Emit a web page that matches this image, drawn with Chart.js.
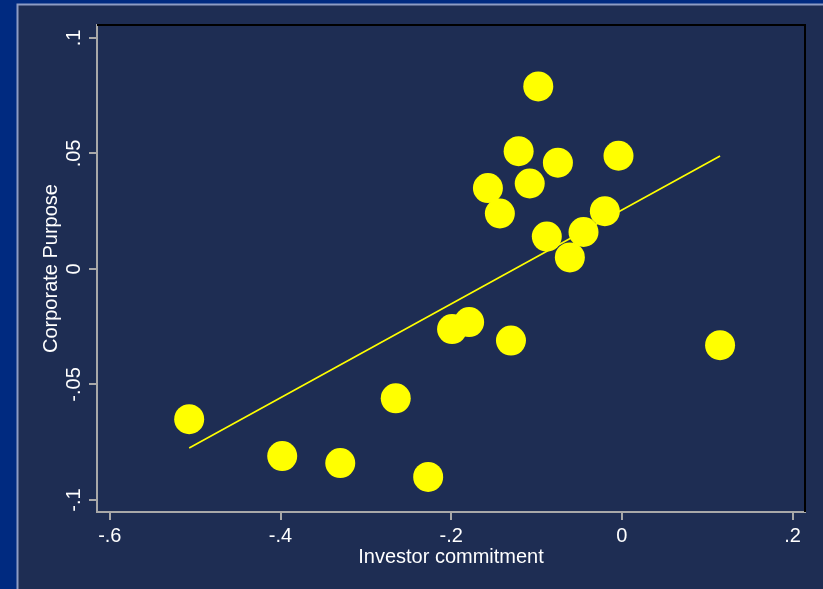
<!DOCTYPE html>
<html>
<head>
<meta charset="utf-8">
<script src="https://cdn.jsdelivr.net/npm/chart.js@4"></script>
<style>
  body { margin: 0; background: #002a80; }
  canvas { display: block; }
</style>
</head>
<body>
<canvas id="chart" width="823" height="589"></canvas>
<script>
// investor commitment (x) vs corporate purpose (y), one entry per point
const commitment = [-0.507, -0.398, -0.330, -0.265, -0.227, -0.199, -0.179, -0.130, -0.157, -0.143,
                    -0.121, -0.108, -0.098, -0.075, -0.088, -0.045, -0.061, -0.020, -0.004, 0.115];
const purpose    = [-0.065, -0.081, -0.084, -0.056, -0.090, -0.026, -0.023, -0.031, 0.035, 0.024,
                     0.051, 0.037, 0.079, 0.046, 0.014, 0.016, 0.005, 0.025, 0.049, -0.033];

// fitted line end points
const fitX = [-0.507, 0.115];
const fitY = [-0.0775, 0.0489];

const xTicks = [-0.6, -0.4, -0.2, 0, 0.2];
const xLabels = ['-.6', '-.4', '-.2', '0', '.2'];
const yTicks = [-0.1, -0.05, 0, 0.05, 0.1];
const yLabels = ['-.1', '-.05', '0', '.05', '.1'];

const font = '"Liberation Sans", Arial, sans-serif';
const gray = '#a8a8a8';

// background panel, black top/right frame and the tick labels
const framePlugin = {
    id: 'frame',
    beforeDraw(chart) {
        const c = chart.ctx;
        c.save();
        c.fillStyle = '#002a80';
        c.fillRect(0, 0, chart.width, chart.height);
        c.fillStyle = '#1e2d53';
        c.fillRect(17, 4, chart.width - 17, chart.height - 4);
        c.strokeStyle = '#8d9cc4';
        c.lineWidth = 2;
        c.beginPath();
        c.moveTo(17.5, chart.height);
        c.lineTo(17.5, 4.5);
        c.lineTo(chart.width, 4.5);
        c.stroke();
        c.restore();
    },
    afterDraw(chart) {
        const c = chart.ctx;
        const a = chart.chartArea;
        const xs = chart.scales.x, ys = chart.scales.y;
        c.save();
        c.strokeStyle = '#000000';
        c.lineWidth = 2;
        c.beginPath();
        c.moveTo(a.left, a.top);
        c.lineTo(a.right, a.top);
        c.lineTo(a.right, a.bottom);
        c.stroke();

        c.fillStyle = '#ffffff';
        c.font = '20px ' + font;
        c.textAlign = 'center';
        c.textBaseline = 'alphabetic';
        xTicks.forEach((v, i) => {
            c.fillText(xLabels[i], xs.getPixelForValue(v), 542);
        });
        yTicks.forEach((v, i) => {
            c.save();
            c.translate(80, ys.getPixelForValue(v));
            c.rotate(-Math.PI / 2);
            c.fillText(yLabels[i], 0, 0);
            c.restore();
        });
        c.restore();
    }
};

const points = commitment.map((x, i) => ({ x: x, y: purpose[i] }));
const fitLine = fitX.map((x, i) => ({ x: x, y: fitY[i] }));

const ctx = document.getElementById('chart').getContext('2d');
const myChart = new Chart(ctx, {
    type: 'scatter',
    data: {
        datasets: [{
            data: points,
            backgroundColor: '#ffff00',
            borderWidth: 0,
            pointRadius: 15,
            pointHoverRadius: 15
        }, {
            type: 'line',
            data: fitLine,
            borderColor: '#ffff00',
            borderWidth: 1.6,
            pointRadius: 0,
            fill: false
        }]
    },
    options: {
        responsive: false,
        animation: false,
        events: [],
        layout: { padding: { left: 0, top: 25, right: 18, bottom: 0 } },
        plugins: { legend: { display: false }, tooltip: { enabled: false } },
        scales: {
            x: {
                type: 'linear',
                min: -0.615,
                max: 0.2145,
                afterBuildTicks: s => { s.ticks = xTicks.map(v => ({ value: v })); },
                afterFit: s => { s.height = 77; },
                ticks: { display: false },
                grid: { drawOnChartArea: false, drawTicks: true, tickLength: 8, color: gray, lineWidth: 2 },
                border: { color: gray, width: 2 },
                title: {
                    display: true,
                    text: 'Investor commitment',
                    color: '#ffffff',
                    font: { family: font, size: 20 },
                    padding: { top: 0, bottom: 20 }
                }
            },
            y: {
                type: 'linear',
                min: -0.1052,
                max: 0.1056,
                afterBuildTicks: s => { s.ticks = yTicks.map(v => ({ value: v })); },
                afterFit: s => { s.width = 97; },
                ticks: { display: false },
                grid: { drawOnChartArea: false, drawTicks: true, tickLength: 8, color: gray, lineWidth: 2 },
                border: { color: gray, width: 2 },
                title: {
                    display: true,
                    text: 'Corporate Purpose',
                    color: '#ffffff',
                    font: { family: font, size: 20 },
                    padding: { top: 39, bottom: 0 }
                }
            }
        }
    },
    plugins: [framePlugin]
});
</script>
</body>
</html>
